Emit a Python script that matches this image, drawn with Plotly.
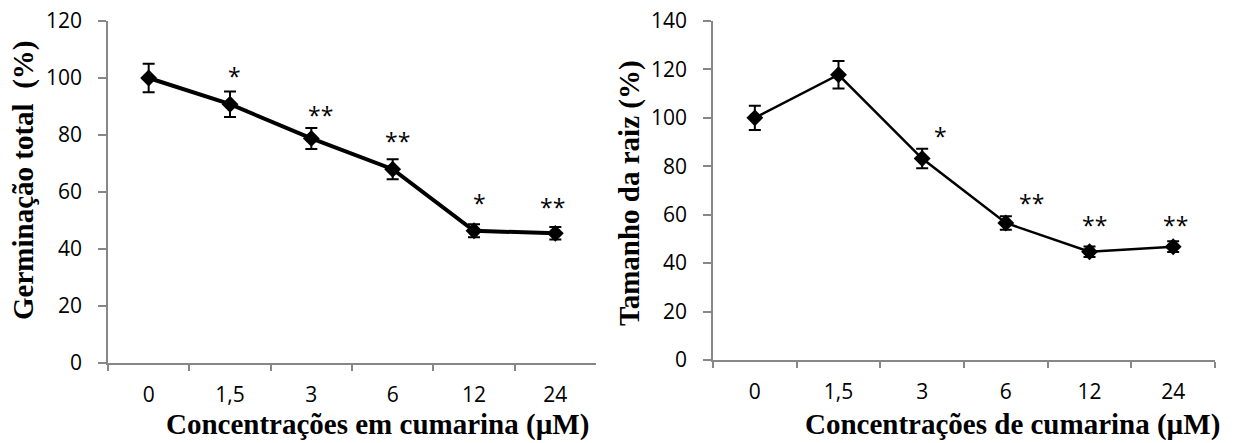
import plotly.graph_objects as go

categories = ["0", "1,5", "3", "6", "12", "24"]

germ_values = [100, 90.8, 78.8, 68.0, 46.4, 45.5]
germ_errors = [5.0, 4.5, 3.7, 3.5, 2.3, 2.2]
germ_signif = ["", "*", "**", "**", "*", "**"]
germ_signif_y = [None, 102.6, 88.6, 79.7, 58.0, 56.5]

root_values = [100, 117.8, 83.2, 56.6, 44.7, 46.8]
root_errors = [5.0, 5.7, 4.0, 2.8, 2.2, 2.2]
root_signif = ["", "", "*", "**", "**", "**"]
root_signif_y = [None, None, 94.6, 67.0, 58.0, 58.0]

germ_yticks = [0, 20, 40, 60, 80, 100, 120]
root_yticks = [0, 20, 40, 60, 80, 100, 120, 140]

AX = "#878787"
TICKFONT = dict(family="Open Sans", size=21, color="#000000")
TITLEFONT = dict(family="Liberation Serif", size=29, color="#000000")

fig = go.Figure()

fig.add_trace(go.Scatter(
    x=categories, y=germ_values, xaxis="x", yaxis="y",
    mode="lines+markers",
    line=dict(color="#000000", width=4),
    marker=dict(symbol="diamond", size=13, color="#000000"),
    error_y=dict(type="data", array=germ_errors, visible=True,
                 color="#000000", thickness=2, width=6),
    showlegend=False,
))

fig.add_trace(go.Scatter(
    x=categories, y=root_values, xaxis="x2", yaxis="y2",
    mode="lines+markers",
    line=dict(color="#000000", width=2.5),
    marker=dict(symbol="diamond", size=13, color="#000000"),
    error_y=dict(type="data", array=root_errors, visible=True,
                 color="#000000", thickness=2, width=6),
    showlegend=False,
))

W, H = 1236, 443

common_x = dict(
    type="category", showline=True, linecolor=AX, linewidth=1.5,
    ticks="outside", ticklen=6, tickcolor=AX, tickwidth=1.5,
    tickson="boundaries", showgrid=False, zeroline=False,
    tickfont=TICKFONT, range=[-0.5, 5.5], fixedrange=True,
    automargin=False, ticklabelstandoff=12,
)
common_y = dict(
    showline=True, linecolor=AX, linewidth=1.5,
    ticks="outside", ticklen=8, tickcolor=AX, tickwidth=1.5,
    showgrid=False, zeroline=False, tickfont=TICKFONT,
    automargin=False, ticklabelstandoff=12,
)

fig.update_layout(
    width=W, height=H,
    margin=dict(l=0, r=0, t=0, b=0),
    paper_bgcolor="#ffffff", plot_bgcolor="#ffffff",
    xaxis=dict(common_x, domain=[108 / W, 596 / W], anchor="y"),
    yaxis=dict(common_y, domain=[(H - 363) / H, (H - 21) / H], anchor="x",
               range=[0, 120], tickvals=germ_yticks),
    xaxis2=dict(common_x, domain=[713 / W, 1215 / W], anchor="y2"),
    yaxis2=dict(common_y, domain=[(H - 360) / H, (H - 21) / H], anchor="x2",
                range=[0, 140], tickvals=root_yticks),
)

annotations = []
star_shift_germ = [0, 4, 9, 5, 5, -3]
star_shift_root = [0, 0, 18, 26, 5, 2]
for i, c in enumerate(categories):
    if germ_signif[i]:
        annotations.append(dict(x=i, y=germ_signif_y[i], xref="x", yref="y",
                                text=germ_signif[i], showarrow=False,
                                xshift=star_shift_germ[i], yshift=-5,
                                font=dict(family="Open Sans", size=23, color="#000")))
    if root_signif[i]:
        annotations.append(dict(x=i, y=root_signif_y[i], xref="x2", yref="y2",
                                text=root_signif[i], showarrow=False,
                                xshift=star_shift_root[i], yshift=-5,
                                font=dict(family="Open Sans", size=23, color="#000")))

annotations += [
    dict(text="<b>Concentrações em cumarina (µM)</b>", x=378 / W, y=(H - 424) / H,
         xref="paper", yref="paper", showarrow=False, font=TITLEFONT,
         xanchor="center", yanchor="middle"),
    dict(text="<b>Concentrações de cumarina (µM)</b>", x=1012 / W, y=(H - 424) / H,
         xref="paper", yref="paper", showarrow=False, font=TITLEFONT,
         xanchor="center", yanchor="middle"),
    dict(text="<b>Germinação total \u00a0(%)</b>", x=23 / W, y=(H - 181) / H,
         xref="paper", yref="paper", showarrow=False, font=TITLEFONT,
         textangle=-90, xanchor="center", yanchor="middle"),
    dict(text="<b>Tamanho da raiz (%)</b>", x=630 / W, y=(H - 193) / H,
         xref="paper", yref="paper", showarrow=False, font=TITLEFONT,
         textangle=-90, xanchor="center", yanchor="middle"),
]
fig.update_layout(annotations=annotations)

fig.write_html("out.html")
